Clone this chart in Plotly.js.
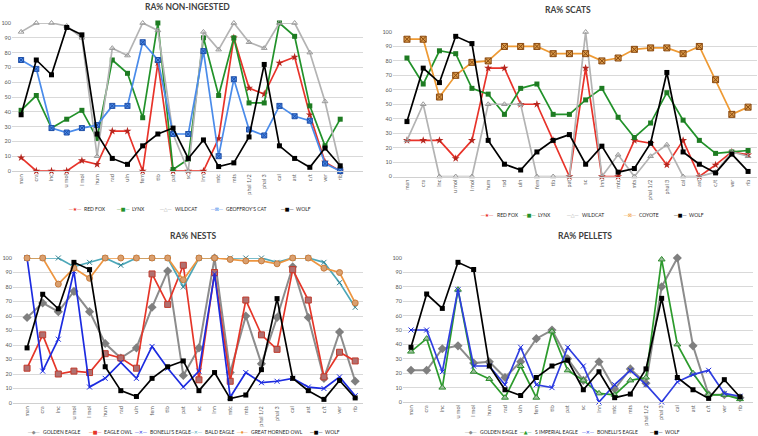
<!DOCTYPE html>
<html><head><meta charset="utf-8">
<script src="https://cdn.plot.ly/plotly-3.0.1.min.js"></script>
<style>html,body{margin:0;padding:0;background:#fff}#chart{width:758px;height:436px}</style>
</head><body><div id="chart"></div>
<script>
// ---- data ----
const categories = ['man','cra','inc','u mol','l mol','hum','rad','uln','fem','tib','pat','sc','inn','mtc','mts','phal 1/2','phal 3','cal','ast','c/t','ver','rib'];
const wolf = [38, 75, 65, 97, 92, 25, 8.5, 4.5, 17, 25, 29, 8.5, 21, 3, 5.5, 23, 72, 17, 8.5, 2.5, 15.5, 3.5];

// RA% NON-INGESTED
const niRedFox   = [9, 0, 0, 0, 7, 4.5, 27, 27, 0, 73, 0, 0, 0, 22, 90, 56, 52, 73, 77, 38, 6, 0];
const niLynx     = [41, 51, 29, 35, 41, 22, 75, 66, 36, 100, 1, 8, 90, 51, 90, 46, 46, 100, 91, 44, 17, 35];
const niWildcat  = [94, 100, 100, 98, 90, 10, 83, 78, 100, 95, 25, 0, 94, 82, 100, 87, 83, 100, 100, 80, 47, 3];
const niGeoffroy = [75, 69, 29, 26, 29, 31, 44, 44, 87, 75, 25, 25, 81, 10, 62, 28, 24, 44, 37, 34, 5, 0];

// RA% SCATS
const scRedFox  = [25, 25, 25, 12.5, 25, 75, 75, 50, 50, 25, 0, 75, 0, 0, 25, 23, 8, 25, 0, 8, 17, 15];
const scLynx    = [82, 64, 87, 85, 61, 57, 43, 61, 64, 43, 43, 53, 61, 41, 27, 37, 58, 39, 25, 16, 17, 18];
const scWildcat = [25, 50, 0, 0, 0, 50, 50, 50, 0, 0, 0, 100, 0, 15, 0, 14, 22, 0, 0, 3, 17, 14];
const scCoyote  = [95, 95, 55, 70, 79, 80, 90, 90, 90, 85, 85, 85, 80, 82, 88, 89, 89, 85, 90, 67, 43, 48];

// RA% NESTS
const neGoldenEagle = [59, 69, 63, 77, 63, 41, 31, 38, 66, 91, 19, 38, 100, 21, 60, 27, 59, 94, 59, 17, 49, 15];
const neEagleOwl    = [24, 47, 20, 22, 21, 34, 31, 24, 89, 68, 95, 16, 90, 15, 71, 47, 37, 92, 71, 18, 35, 29];
const neBonelli     = [100, 22, 44, 91, 11, 17, 28, 17, 39, 24, 11, 22, 89, 4, 21, 14, 15, 17, 11, 10, 18, 5];
const neBaldEagle   = [100, 100, 100, 94, 97, 100, 95, 100, 100, 100, 80, 100, 100, 100, 100, 100, 97, 100, 100, 97, 83, 66];
const neGreatHorned = [100, 100, 82, 93, 86, 100, 100, 100, 100, 100, 85, 100, 100, 99, 98, 98, 96, 100, 100, 93, 90, 69];

// RA% PELLETS
const peGoldenEagle = [22, 22, 37, 39, 27, 28, 17, 28, 44, 50, 30, 15, 28, 9, 23, 13, 80, 100, 39, 5, 5, 3];
const peImperial    = [35, 44, 10, 78, 21, 16, 3, 25, 3, 49, 22, 15, 6, 5, 15, 17, 99, 40, 20, 5, 5, 2];
const peBonelli     = [50, 50, 21, 78, 25, 25, 12, 38, 12, 10, 38, 25, 0, 12, 22, 12, 0, 14, 19, 22, 6, 4];

const titles = ['RA% NON-INGESTED', 'RA% SCATS', 'RA% NESTS', 'RA% PELLETS'];

// ---- styles ----
const W = 758, H = 436;
const S = {
  redfox:   {line:'#E8332A', marker:{symbol:'star', size:6, color:'#B5261E'}},
  lynx:     {line:'#22922A', marker:{symbol:'square', size:5, color:'#1E7B22'}},
  wildcat:  {line:'#B3B3B3', marker:{symbol:'triangle-up-open', size:5, color:'#999999', line:{width:1, color:'#999999'}}},
  geoffroy: {line:'#4A8BEA', marker:{symbol:'square-x', size:5, color:'#4A8BEA', line:{width:1, color:'#1F4FA8'}}},
  wolf:     {line:'#000000', marker:{symbol:'square', size:5, color:'#000000'}},
  coyote:   {line:'#EE9A34', marker:{symbol:'square-x', size:6, color:'#D99A4A', line:{width:1, color:'#8B4A10'}}},
  golden:   {line:'#8C8C8C', marker:{symbol:'diamond', size:7, color:'#7F7F7F'}, width:2},
  eagleowl: {line:'#E53528', marker:{symbol:'square', size:6, color:'#B07070', line:{width:1, color:'#C0392B'}}},
  bonelli:  {line:'#1C2BE0', marker:{symbol:'x-thin', size:5, color:'#1C2BE0', line:{width:1, color:'#1C2BE0'}}},
  bald:     {line:'#4CA7B8', marker:{symbol:'x-thin', size:5, color:'#2F7F8F', line:{width:1, color:'#2F7F8F'}}},
  gho:      {line:'#ED9540', marker:{symbol:'circle', size:6, color:'#D9A070', line:{width:1, color:'#C87A3A'}}},
  imperial: {line:'#2C9B2C', marker:{symbol:'triangle-up', size:6, color:'#9DBF9D', line:{width:1, color:'#2C8A2C'}}}
};

function tr(name, y, n, st){
  return {type:'scatter', mode:'lines+markers', name:name, x:categories, y:y,
    xaxis:'x'+(n>1?n:''), yaxis:'y'+(n>1?n:''), showlegend:false, cliponaxis:false,
    line:{color:st.line, width:st.width||1.7}, marker:st.marker, hoverinfo:'x+y+name'};
}

const data = [
  tr('RED FOX', niRedFox, 1, S.redfox),
  tr('LYNX', niLynx, 1, S.lynx),
  tr('WILDCAT', niWildcat, 1, S.wildcat),
  tr("GEOFFROY'S CAT", niGeoffroy, 1, S.geoffroy),
  tr('WOLF', wolf, 1, S.wolf),

  tr('RED FOX', scRedFox, 2, S.redfox),
  tr('LYNX', scLynx, 2, S.lynx),
  tr('WILDCAT', scWildcat, 2, S.wildcat),
  tr('COYOTE', scCoyote, 2, S.coyote),
  tr('WOLF', wolf, 2, S.wolf),

  tr('GOLDEN EAGLE', neGoldenEagle, 3, S.golden),
  tr('EAGLE OWL', neEagleOwl, 3, S.eagleowl),
  tr("BONELLI'S EAGLE", neBonelli, 3, S.bonelli),
  tr('BALD EAGLE', neBaldEagle, 3, S.bald),
  tr('GREAT HORNED OWL', neGreatHorned, 3, S.gho),
  tr('WOLF', wolf, 3, S.wolf),

  tr('GOLDEN EAGLE', peGoldenEagle, 4, S.golden),
  tr('S IMPERIAL EAGLE', peImperial, 4, S.imperial),
  tr("BONELLI'S EAGLE", peBonelli, 4, Object.assign({}, S.bonelli, {line:'#2F3EE0'})),
  tr('WOLF', wolf, 4, S.wolf)
];

function xa(l, r, range, anchor){
  return {domain:[l/W, r/W], range:range, type:'category', anchor:anchor,
    categoryorder:'array', categoryarray:categories,
    tickangle:-90, tickfont:{size:5.5, color:'#595959'}, showgrid:false,
    showline:true, linecolor:'#D0D0D0', linewidth:1, ticks:'', zeroline:false,
    automargin:false, fixedrange:true};
}
function ya(bottom, top, anchor){
  return {domain:[1-bottom/H, 1-top/H], range:[0,100], dtick:10, anchor:anchor,
    gridcolor:'#D9D9D9', gridwidth:1, zeroline:false, showline:false, ticks:'',
    tickfont:{size:5.5, color:'#595959'}, automargin:false, fixedrange:true};
}

const ann = [];
function title(t, x, y){
  ann.push({xref:'paper', yref:'paper', x:x/W, y:1-y/H, xanchor:'center', yanchor:'middle',
    showarrow:false, text:'<b>'+t+'</b>', font:{size:8.5, color:'#404040'}});
}
title(titles[0], 187, 7);
title(titles[1], 568, 10);
title(titles[2], 193, 236);
title(titles[3], 585, 236);

// legend entries: line sample (right-anchored) + name (left-anchored) at the reference text start
function leg(x, y, color, glyph, name){
  ann.push({xref:'paper', yref:'paper', x:(x-0.5)/W, y:1-y/H, xanchor:'right', yanchor:'middle',
    showarrow:false, borderpad:0, text:'\u2500'+glyph+'\u2500', font:{size:5, color:color}});
  ann.push({xref:'paper', yref:'paper', x:(x+0.5)/W, y:1-y/H, xanchor:'left', yanchor:'middle',
    showarrow:false, borderpad:0, text:name, font:{size:5, color:'#262626'}});
}
// legend 1
leg(82, 209, S.redfox.line, '\u2605', 'RED FOX');
leg(130, 209, S.lynx.line, '\u25A0', 'LYNX');
leg(173, 209, '#A0A0A0', '\u25B3', 'WILDCAT');
leg(224, 209, S.geoffroy.line, '\u22A0', "GEOFFROY'S CAT");
leg(294, 209, S.wolf.line, '\u25A0', 'WOLF');
// legend 2
leg(495, 215, S.redfox.line, '\u2605', 'RED FOX');
leg(536, 215, S.lynx.line, '\u25A0', 'LYNX');
leg(580, 215, '#A0A0A0', '\u25B3', 'WILDCAT');
leg(637, 215, S.coyote.line, '\u22A0', 'COYOTE');
leg(687, 215, S.wolf.line, '\u25A0', 'WOLF');
// legend 3
leg(41, 432, S.golden.line, '\u25C6', 'GOLDEN EAGLE');
leg(102, 432, S.eagleowl.line, '\u25A0', 'EAGLE OWL');
leg(148, 432, S.bonelli.line, '\u2715', "BONELLI'S EAGLE");
leg(203, 432, S.bald.line, '\u2715', 'BALD EAGLE');
leg(249, 432, S.gho.line, '\u25CF', 'GREAT HORNED OWL');
leg(323, 432, S.wolf.line, '\u25A0', 'WOLF');
// legend 4
leg(478, 432, S.golden.line, '\u25C6', 'GOLDEN EAGLE');
leg(533, 432, S.imperial.line, '\u25B2', 'S IMPERIAL EAGLE');
leg(595, 432, '#2F3EE0', '\u2715', "BONELLI'S EAGLE");
leg(663, 432, S.wolf.line, '\u25A0', 'WOLF');

const layout = {
  width:W, height:H, margin:{l:0, r:0, t:0, b:0},
  paper_bgcolor:'#ffffff', plot_bgcolor:'rgba(0,0,0,0)',
  font:{family:'Lato, "Open Sans", "DejaVu Sans", sans-serif', color:'#595959'},
  showlegend:false,
  xaxis:  xa(12, 363, [-0.6, 22.5], 'y'),
  yaxis:  ya(171, 23, 'x'),
  xaxis2: xa(393, 757, [-0.86, 21.55], 'y2'),
  yaxis2: ya(176.5, 32, 'x2'),
  xaxis3: xa(13, 363, [-0.9, 21.5], 'y3'),
  yaxis3: ya(403, 258, 'x3'),
  xaxis4: xa(403, 753, [-0.51, 21.83], 'y4'),
  yaxis4: ya(402, 258, 'x4'),
  annotations: ann
};

Plotly.newPlot('chart', data, layout, {displayModeBar:false, staticPlot:true});
</script>
</body></html>
